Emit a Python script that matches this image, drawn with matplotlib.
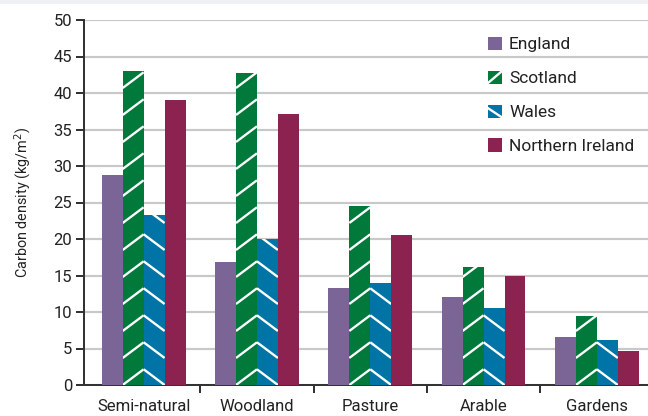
import numpy as np
import matplotlib
matplotlib.use("Agg")
from matplotlib import pyplot as plt
from matplotlib.patches import Patch, Rectangle
from matplotlib.lines import Line2D
from matplotlib.legend_handler import HandlerBase

categories = ['Semi-natural', 'Woodland', 'Pasture', 'Arable', 'Gardens']
england = [28.7, 16.8, 13.3, 12.0, 6.6]
scotland = [43.0, 42.8, 24.5, 16.1, 9.5]
wales = [23.3, 20.0, 14.0, 10.6, 6.1]
n_ireland = [39.0, 37.1, 20.6, 15.0, 4.7]
series_names = ['England', 'Scotland', 'Wales', 'Northern Ireland']

colors = ['#7b6496', '#00793a', '#0074a6', '#8b2250']
hatches = [None, '/', '\\', None]

plt.rcParams['font.family'] = ['Roboto', 'DejaVu Sans']

dpi = 120
fig = plt.figure(figsize=(648 / dpi, 416 / dpi), dpi=dpi)
fig.patches.append(Rectangle((0, 0.992), 1, 0.008, transform=fig.transFigure,
                             color='#eeeff2', zorder=0))
ax = fig.add_axes([84 / 648, 31 / 416, 564 / 648, 365 / 416])

x = np.arange(len(categories))
w = 0.185
px_x = 113.3   # pixels per category
px_y = 7.3     # pixels per kg/m2


def hatch_bar(rect, sign):
    # white diagonal stripes clipped to the bar, ~27 px apart, slope 0.75
    slope = sign * 0.75 * px_x / px_y
    step = 27 / px_y
    xl, wd, h = rect.get_x(), rect.get_width(), rect.get_height()
    xs = np.array([xl, xl + wd])
    for k in range(-3, int(h / step) + 4):
        y0 = k * step
        ys = y0 + slope * (xs - xl) if sign > 0 else y0 + slope * (xs - xl) + abs(slope) * wd
        ln, = ax.plot(xs, ys, color='white', linewidth=1.4, zorder=4,
                      solid_capstyle='butt')
        ln.set_clip_path(rect)


class StripeHandler(HandlerBase):
    def create_artists(self, legend, orig_handle, xdescent, ydescent,
                       width, height, fontsize, trans):
        rect = Rectangle((-xdescent, -ydescent), width, height,
                         facecolor=orig_handle.get_facecolor(), linewidth=0,
                         transform=trans)
        arts = [rect]
        h = orig_handle.get_hatch()
        if h == '/':
            xs = [-xdescent, -xdescent + width]
            ys = [-ydescent + 0.05 * height, -ydescent + 0.95 * height]
        elif h == '\\':
            xs = [-xdescent, -xdescent + width]
            ys = [-ydescent + 0.75 * height, -ydescent + 0.05 * height]
        else:
            return arts
        ln = Line2D(xs, ys, color='white', linewidth=1.4, transform=trans)
        ln.set_clip_path(rect)
        arts.append(ln)
        return arts


data = [england, scotland, wales, n_ireland]
for i, vals in enumerate(data):
    bars = ax.bar(x + (i - 1.5) * w, vals, w, color=colors[i],
                  linewidth=0, zorder=3)
    if hatches[i] is not None:
        for r in bars:
            hatch_bar(r, 1 if hatches[i] == '/' else -1)

x0 = -0.5 - 3 / px_x
ax.set_xlim(x0, x0 + 564 / px_x)
ax.set_ylim(0, 50)
ax.set_yticks(range(0, 51, 5))
ax.set_xticks(x)
ax.set_xticklabels(categories)
ax.set_xticks([0.5, 1.5, 2.5, 3.5], minor=True)
ax.tick_params(axis='x', which='major', length=0, pad=8.5, labelsize=10, colors='#222222')
ax.tick_params(axis='x', which='minor', length=5, width=1.2, color='#333333')
ax.tick_params(axis='y', length=5, width=1.2, color='#333333', labelsize=10,
               labelcolor='#222222', pad=2)
ax.grid(axis='y', color='#c8c8c8', linewidth=1.3, zorder=0)
ax.set_axisbelow(True)
for s in ['top', 'right']:
    ax.spines[s].set_visible(False)
for s in ['left', 'bottom']:
    ax.spines[s].set_color('#333333')
    ax.spines[s].set_linewidth(1.2)
ax.set_ylabel('Carbon density (kg/m$^2$)', fontsize=8.6, color='#222222', labelpad=12)

handles = [Patch(facecolor=colors[i], hatch=hatches[i], linewidth=0)
           for i in range(4)]
leg = fig.legend(handles, series_names, loc='upper left',
                 bbox_to_anchor=(472 / 648, 1 - 21 / 416), frameon=False,
                 fontsize=10.4, handlelength=0.82, handleheight=0.82,
                 handletextpad=0.42, labelspacing=1.05,
                 handler_map={Patch: StripeHandler()})
for t in leg.get_texts():
    t.set_color('#222222')

fig.savefig('out.png', dpi=dpi)
